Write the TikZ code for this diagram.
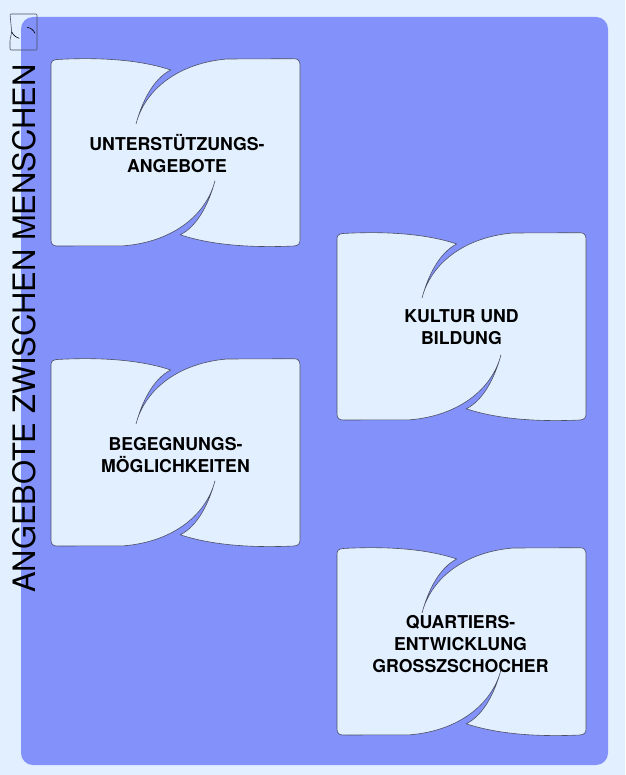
\documentclass[tikz,border=0pt]{standalone}
\usepackage{fontspec}
\setmainfont{TeX Gyre Heros}
\definecolor{paleblue}{HTML}{E1EFFF}
\definecolor{panelblue}{HTML}{8391FB}
\definecolor{cardline}{HTML}{4A4F63}
\tikzset{
cardlabel/.style={font=\fontsize{17.7}{22}\selectfont\bfseries,align=center,text=black},
sidelabel/.style={font=\fontsize{30.9}{34}\selectfont,rotate=90,text=black},
pics/card/.style={code={
\draw[draw=cardline,fill=paleblue,line width=0.6pt]
(0,7) .. controls (0,3) and (2,2) .. (6,1.5)
.. controls (50,-1) and (90,2) .. (119.7,12)
.. controls (102,21) and (91,44) .. (85,66)
.. controls (94,31) and (128,5) .. (176,1)
-- (243,0.7) .. controls (247,0.7) and (249,3) .. (249,7)
-- (249,182) .. controls (249,186) and (247,187.5) .. (243,188)
.. controls (200,190) and (160,187) .. (129.3,176.8)
.. controls (147,167.8) and (158,144.8) .. (164,122.8)
.. controls (155,157.8) and (121,183.8) .. (73,187.8)
-- (6,188) .. controls (2,188) and (0,186) .. (0,182)
-- cycle;
}}
}
\begin{document}
\begin{tikzpicture}[x=1pt,y=-1pt]
\useasboundingbox (0,0) rectangle (625,775);
\fill[paleblue] (0,0) rectangle (625,775);
\fill[panelblue,rounded corners=12pt] (21,17) rectangle (608,765);

% small mark in the corner
\draw[draw=cardline,line width=0.6pt,rounded corners=1pt]
(10,14) -- (37,14) -- (37,50) -- (10,50) -- (10,40) -- (11.7,32) -- cycle;
\draw[black,line width=0.6pt]
(11.7,31.7) .. controls (13,35) and (16,37.5) .. (19.3,38.3)
(27.3,27.3) .. controls (31,28) and (34,30.5) .. (35,33.3);

\pic at (51,58) {card};
\pic at (337,232) {card};
\pic at (51,358) {card};
\pic at (337,547) {card};

\node[sidelabel] (side) at (24.5,328.5) {ANGEBOTE ZWISCHEN MENSCHEN};
\node[cardlabel] (support) at (177,154) {UNTERSTÜTZUNGS-\\ANGEBOTE};
\node[cardlabel] (culture) at (461.5,327) {KULTUR UND\\BILDUNG};
\node[cardlabel] (meeting) at (175.5,455) {BEGEGNUNGS-\\MÖGLICHKEITEN};
\node[cardlabel] (district) at (460.5,644) {QUARTIERS-\\ENTWICKLUNG\\GROSSZSCHOCHER};
\end{tikzpicture}
\end{document}
